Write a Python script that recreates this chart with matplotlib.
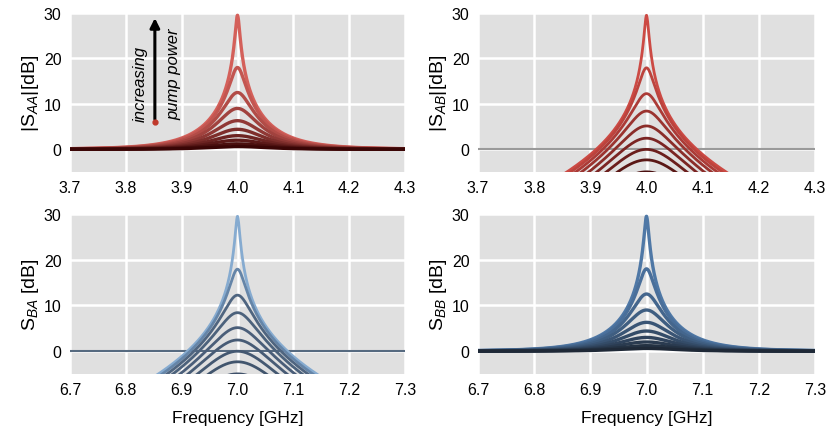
import numpy as np
import matplotlib
matplotlib.use("Agg")
from matplotlib import pyplot as plt
from matplotlib.colors import to_rgb

plt.rcParams['font.family'] = ['Liberation Sans', 'DejaVu Sans']
plt.rcParams['mathtext.fontset'] = 'custom'
plt.rcParams['mathtext.rm'] = 'Liberation Sans'
plt.rcParams['mathtext.it'] = 'Liberation Sans:italic'

# peak reflection gain |S_AA| = |S_BB| at resonance, one entry per pump power (dB)
peak_gain_db = [29.5, 18.0, 12.5, 9.0, 6.3, 4.4, 3.0, 2.0, 1.2, 0.6]
f_a = 4.0          # GHz, mode A
f_b = 7.0          # GHz, mode B
half_kappa = 0.1   # GHz, half linewidth
xticks_a = [3.7, 3.8, 3.9, 4.0, 4.1, 4.2, 4.3]
xticks_b = [6.7, 6.8, 6.9, 7.0, 7.1, 7.2, 7.3]
yticks = [0, 10, 20, 30]


def blend(c1, c2, n):
    a, b = np.array(to_rgb(c1)), np.array(to_rgb(c2))
    return [tuple(a + (b - a) * t) for t in np.linspace(0, 1, n)]


def response(freq, f0, g_db):
    G = 10 ** (g_db / 20)
    rho = np.sqrt((G - 1) / (G + 1))
    x = (freq - f0) / half_kappa
    D = (1 - 1j * x) ** 2 - rho ** 2
    s_refl = (1 + x ** 2 + rho ** 2) / D
    s_trans = 2 * rho / D
    return 20 * np.log10(np.abs(s_refl)), 20 * np.log10(np.abs(s_trans))


n = len(peak_gain_db)
reds_aa = blend('#d4605a', '#3a0606', n)
reds_ab = blend('#cc4a44', '#3a0808', n)
blues_ba = ['#86abd0', '#6585a8'] + blend('#4f6580', '#3c4e66', n - 2)
blues_bb = blend('#4f78a6', '#1f2937', n)

fig = plt.figure(figsize=(8.29, 4.31), dpi=100)
W, H = 829, 431
boxes = [(70, 14, 405, 173), (478, 14, 815, 173),
         (70, 215, 405, 375), (478, 215, 815, 375)]
axes = [fig.add_axes([x0 / W, 1 - y1 / H, (x1 - x0) / W, (y1 - y0) / H])
        for x0, y0, x1, y1 in boxes]

fa = np.linspace(3.7, 4.3, 2000)
fb = np.linspace(6.7, 7.3, 2000)

for i, g in enumerate(peak_gain_db):
    refl, trans = response(fa, f_a, g)
    axes[0].plot(fa, refl, color=reds_aa[i], lw=2.4, solid_capstyle='butt')
    axes[1].plot(fa, trans, color=reds_ab[i], lw=2.0)
    refl, trans = response(fb, f_b, g)
    axes[2].plot(fb, trans, color=blues_ba[i], lw=2.0)
    axes[3].plot(fb, refl, color=blues_bb[i], lw=2.4)

axes[1].axhline(0, color='#9a9a9a', lw=1.5, zorder=1.5)
axes[2].axhline(0, color='#566a80', lw=1.5, zorder=1.5)

labels = [r'$|\mathrm{S}_{AA}|$[dB]', r'$|\mathrm{S}_{AB}|$[dB]',
          r'$\mathrm{S}_{BA}$ [dB]', r'$\mathrm{S}_{BB}$ [dB]']
for k, ax in enumerate(axes):
    ax.set_facecolor('#e0e0e0')
    for s in ax.spines.values():
        s.set_visible(False)
    ax.grid(True, color='white', lw=1.8)
    ax.set_axisbelow(True)
    ax.set_ylim(-5, 30)
    ax.set_yticks(yticks)
    if k < 2:
        ax.set_xlim(3.7, 4.3)
        ax.set_xticks(xticks_a)
    else:
        ax.set_xlim(6.7, 7.3)
        ax.set_xticks(xticks_b)
        ax.set_xlabel('Frequency [GHz]', fontsize=12.5, labelpad=9)
    ax.xaxis.set_major_formatter(matplotlib.ticker.FormatStrFormatter('%.1f'))
    ax.tick_params(length=0, labelsize=11.5, pad=6)
    ax.set_ylabel(labels[k], fontsize=14, labelpad=2)

# pump power annotation
ax = axes[0]
ax.annotate('', xy=(3.852, 29.5), xytext=(3.852, 6.0),
            arrowprops=dict(arrowstyle='-|>', color='black', lw=2.2,
                            mutation_scale=14))
ax.plot([3.852], [6.0], 'o', color='#c0392b', ms=3.5, zorder=5)
ax.text(3.826, 14.7, 'increasing', rotation=90, style='italic',
        fontsize=12, ha='center', va='center')
ax.text(3.886, 16.8, 'pump power', rotation=90, style='italic',
        fontsize=12, ha='center', va='center')

fig.savefig('out.png', dpi=100)
